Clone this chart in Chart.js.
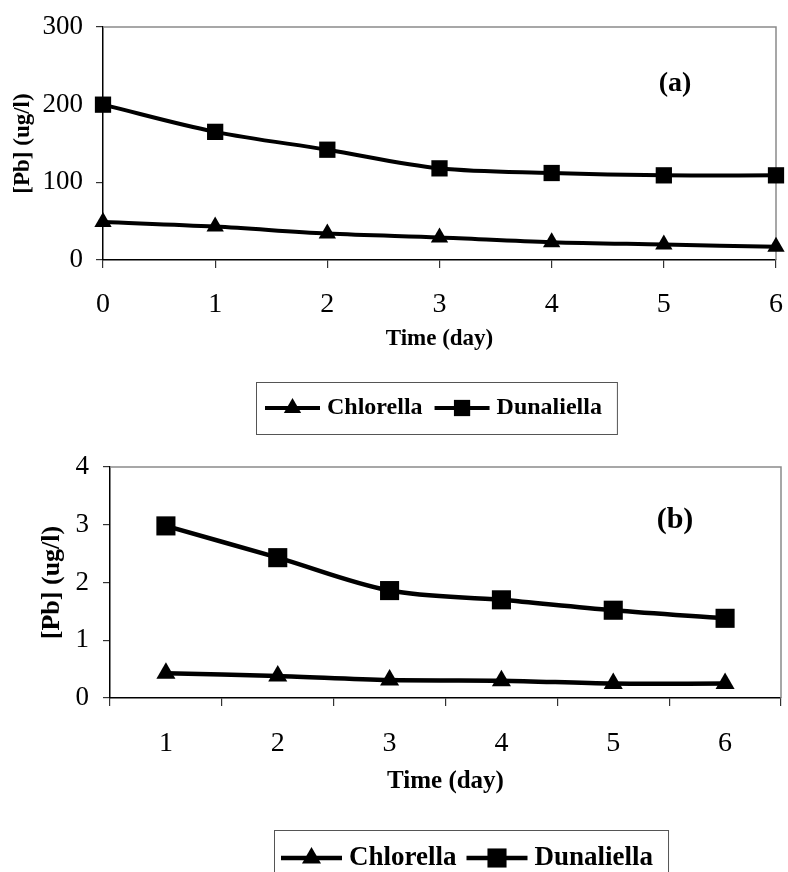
<!DOCTYPE html>
<html>
<head>
<meta charset="utf-8">
<script src="https://cdn.jsdelivr.net/npm/chart.js@4/dist/chart.umd.min.js"></script>
<style>
  body { margin:0; background:#fff; }
  #wrap { position:relative; width:788px; height:872px; overflow:hidden; }
  #chartA { position:absolute; left:0; top:0; }
  #chartB { position:absolute; left:0; top:440px; }
</style>
</head>
<body>
<div id="wrap">
  <canvas id="chartA" width="788" height="440"></canvas>
  <canvas id="chartB" width="788" height="432"></canvas>
</div>
<script>
// panel (a)
var daysA = ['0', '1', '2', '3', '4', '5', '6'];
var chlorellaA = [49, 43, 34, 29, 23, 20, 17];
var dunaliellaA = [200, 165, 142, 118, 112, 109, 109];
var ticksA = [0, 100, 200, 300];

// panel (b)
var daysB = ['1', '2', '3', '4', '5', '6'];
var chlorellaB = [0.43, 0.38, 0.31, 0.30, 0.25, 0.25];
var dunaliellaB = [2.98, 2.43, 1.86, 1.70, 1.52, 1.38];
var ticksB = [0, 1, 2, 3, 4];

Chart.defaults.font.family = '"Liberation Serif", "Times New Roman", serif';
Chart.defaults.color = '#000';

// gray top/right frame like the excel plot area
var frame = {
    id: 'frame',
    beforeDatasetsDraw: function(chart) {
        var a = chart.chartArea, ctx = chart.ctx;
        ctx.save();
        ctx.strokeStyle = '#8a8a8a';
        ctx.lineWidth = 1.5;
        ctx.beginPath();
        ctx.moveTo(a.left, a.top);
        ctx.lineTo(a.right, a.top);
        ctx.lineTo(a.right, a.bottom);
        ctx.stroke();
        ctx.restore();
    }
};

// panel letter, placed as a fraction of the plot area
var panelLabel = {
    id: 'panelLabel',
    afterDraw: function(chart, args, o) {
        var a = chart.chartArea, ctx = chart.ctx;
        ctx.save();
        ctx.font = 'bold ' + o.size + 'px "Liberation Serif"';
        ctx.fillStyle = '#000';
        ctx.textAlign = 'center';
        ctx.textBaseline = 'middle';
        ctx.fillText(o.text, a.left + o.fx * (a.right - a.left), a.top + o.fy * (a.bottom - a.top));
        ctx.restore();
    }
};

// boxed legend with line + marker samples
var boxLegend = {
    id: 'boxLegend',
    afterDraw: function(chart, args, o) {
        var ctx = chart.ctx;
        var sets = chart.data.datasets;
        ctx.save();
        ctx.font = 'bold ' + o.size + 'px "Liberation Serif"';
        var w = o.padL + o.padR;
        for (var i = 0; i < sets.length; i++) {
            w += o.sample + o.gap + ctx.measureText(sets[i].label).width;
            if (i > 0) w += o.between;
        }
        ctx.strokeStyle = '#555';
        ctx.lineWidth = 1;
        ctx.strokeRect(o.left + 0.5, o.top + 0.5, w, o.height);
        var cy = o.top + o.height / 2;
        var x = o.left + o.padL;
        for (var j = 0; j < sets.length; j++) {
            var ds = sets[j];
            if (j > 0) x += o.between;
            ctx.strokeStyle = '#000';
            ctx.lineWidth = ds.borderWidth;
            ctx.beginPath();
            ctx.moveTo(x, cy);
            ctx.lineTo(x + o.sample, cy);
            ctx.stroke();
            ctx.fillStyle = '#000';
            Chart.helpers.drawPoint(ctx, {pointStyle: ds.pointStyle, radius: ds.pointRadius, rotation: 0, borderWidth: 0}, x + o.sample / 2, cy);
            x += o.sample + o.gap;
            ctx.textAlign = 'left';
            ctx.textBaseline = 'middle';
            ctx.fillText(ds.label, x, cy);
            x += ctx.measureText(ds.label).width;
        }
        ctx.restore();
    }
};

function seriesSet(label, data, style, radius, width) {
    return {
        label: label, data: data,
        borderColor: '#000', backgroundColor: '#000',
        borderWidth: width, tension: 0.33,
        pointStyle: style, pointRadius: radius, pointHoverRadius: radius,
        pointBorderWidth: 0, clip: false
    };
}

var chartA = new Chart(document.getElementById('chartA'), {
    type: 'line',
    plugins: [frame, panelLabel, boxLegend],
    data: {
        labels: daysA,
        datasets: [
            seriesSet('Chlorella', chlorellaA, 'triangle', 10, 4),
            seriesSet('Dunaliella', dunaliellaA, 'rect', 11.5, 4)
        ]
    },
    options: {
        responsive: false, animation: false, devicePixelRatio: 1,
        layout: { autoPadding: false, padding: { top: 27, right: 12, bottom: 0, left: 0 } },
        plugins: {
            legend: { display: false },
            tooltip: { enabled: false },
            panelLabel: { text: '(a)', size: 28, fx: 0.85, fy: 0.245 },
            boxLegend: { left: 256, top: 382, height: 52, size: 24, padL: 9, padR: 15, sample: 55, gap: 7, between: 12 }
        },
        scales: {
            x: {
                offset: false,
                grid: { display: true, drawOnChartArea: false, tickLength: 8, color: '#333', lineWidth: 1.2 },
                border: { display: true, color: '#000', width: 1.5 },
                ticks: { font: { size: 28 }, padding: 20, maxRotation: 0, autoSkip: false },
                title: { display: true, text: 'Time (day)', font: { size: 23, weight: 'bold' }, padding: { top: 0, bottom: 87 } },
                afterFit: function(s) { s.height = 180; s.paddingLeft = 0; s.paddingRight = 0; }
            },
            y: {
                min: 0, max: 300,
                afterBuildTicks: function(s) { s.ticks = ticksA.map(function(v) { return { value: v }; }); },
                grid: { display: true, drawOnChartArea: false, tickLength: 7, color: '#333', lineWidth: 1.2 },
                border: { display: true, color: '#000', width: 1.5 },
                ticks: { font: { size: 27 }, padding: 13 },
                title: { display: true, text: '[Pb] (ug/l)', font: { size: 23, weight: 'bold' }, padding: { top: 9, bottom: 0 } },
                afterFit: function(s) { s.width = 103; s.paddingTop = 0; s.paddingBottom = 0; }
            }
        }
    }
});

var chartB = new Chart(document.getElementById('chartB'), {
    type: 'line',
    plugins: [frame, panelLabel, boxLegend],
    data: {
        labels: daysB,
        datasets: [
            seriesSet('Chlorella', chlorellaB, 'triangle', 11, 4.5),
            seriesSet('Dunaliella', dunaliellaB, 'rect', 13.5, 4.5)
        ]
    },
    options: {
        responsive: false, animation: false, devicePixelRatio: 1,
        layout: { autoPadding: false, padding: { top: 27, right: 7, bottom: 0, left: 0 } },
        plugins: {
            legend: { display: false },
            tooltip: { enabled: false },
            panelLabel: { text: '(b)', size: 30, fx: 0.842, fy: 0.23 },
            boxLegend: { left: 274, top: 390, height: 56, size: 27, padL: 7, padR: 15, sample: 61, gap: 7, between: 10 }
        },
        scales: {
            x: {
                offset: true,
                grid: { display: true, offset: true, drawOnChartArea: false, tickLength: 8, color: '#333', lineWidth: 1.2 },
                border: { display: true, color: '#000', width: 1.5 },
                ticks: { font: { size: 28 }, padding: 21, maxRotation: 0, autoSkip: false },
                title: { display: true, text: 'Time (day)', font: { size: 25, weight: 'bold' }, padding: { top: 0, bottom: 75 } },
                afterFit: function(s) { s.height = 174; s.paddingLeft = 0; s.paddingRight = 0; }
            },
            y: {
                min: 0, max: 4,
                afterBuildTicks: function(s) { s.ticks = ticksB.map(function(v) { return { value: v }; }); },
                grid: { display: true, drawOnChartArea: false, tickLength: 7, color: '#333', lineWidth: 1.2 },
                border: { display: true, color: '#000', width: 1.5 },
                ticks: { font: { size: 27 }, padding: 14 },
                title: { display: true, text: '[Pb] (ug/l)', font: { size: 26, weight: 'bold' }, padding: { top: 37, bottom: 0 } },
                afterFit: function(s) { s.width = 110; s.paddingTop = 0; s.paddingBottom = 0; }
            }
        }
    }
});
</script>
</body>
</html>
